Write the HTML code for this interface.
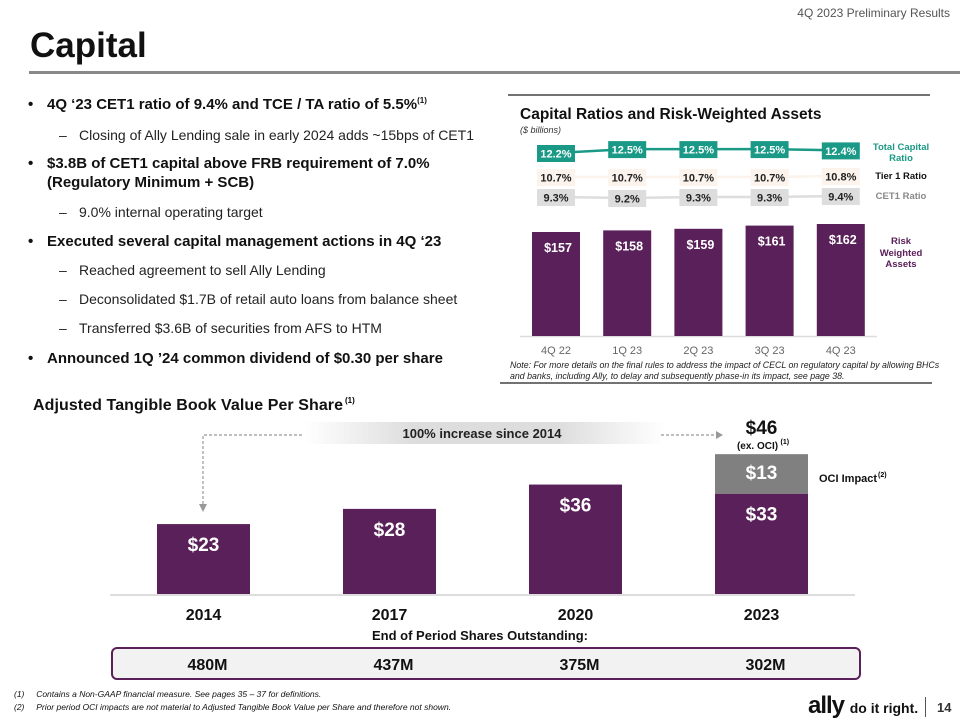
<!DOCTYPE html>
<html><head><meta charset="utf-8"><style>
body{margin:0;width:960px;height:720px;background:#fff;position:relative;overflow:hidden;font-family:"Liberation Sans",sans-serif;color:#111}
.a{position:absolute;white-space:nowrap}
.b{font-weight:bold;font-size:15px}
.s{font-size:14px;color:#222}
</style></head><body>
<div class="a" style="right:10px;top:6px;font-size:12px;color:#555">4Q 2023 Preliminary Results</div>
<div class="a" style="left:30px;top:26px;font-size:35px;font-weight:bold">Capital</div>
<div class="a" style="left:29px;top:71px;width:931px;height:3px;background:#888"></div>

<div>
<div class="a b" style="left:28px;top:96px">•</div><div class="a b" style="left:47px;top:96px">4Q ‘23 CET1 ratio of 9.4% and TCE / TA ratio of 5.5%<sup style="font-size:8px">(1)</sup></div>
<div class="a s" style="left:59px;top:127px">–</div><div class="a s" style="left:79px;top:127px">Closing of Ally Lending sale in early 2024 adds ~15bps of CET1</div>
<div class="a b" style="left:28px;top:155px">•</div><div class="a b" style="left:47px;top:155px">$3.8B of CET1 capital above FRB requirement of 7.0%</div>
<div class="a b" style="left:47px;top:174px">(Regulatory Minimum + SCB)</div>
<div class="a s" style="left:59px;top:204px">–</div><div class="a s" style="left:79px;top:204px">9.0% internal operating target</div>
<div class="a b" style="left:28px;top:233px">•</div><div class="a b" style="left:47px;top:233px">Executed several capital management actions in 4Q ‘23</div>
<div class="a s" style="left:59px;top:262px">–</div><div class="a s" style="left:79px;top:262px">Reached agreement to sell Ally Lending</div>
<div class="a s" style="left:59px;top:291px">–</div><div class="a s" style="left:79px;top:291px">Deconsolidated $1.7B of retail auto loans from balance sheet</div>
<div class="a s" style="left:59px;top:320px">–</div><div class="a s" style="left:79px;top:320px">Transferred $3.6B of securities from AFS to HTM</div>
<div class="a b" style="left:28px;top:350px">•</div><div class="a b" style="left:47px;top:350px">Announced 1Q ’24 common dividend of $0.30 per share</div>
</div>

<svg id="top" class="a" style="left:0;top:0" width="960" height="400"></svg>
<svg id="bot" class="a" style="left:0;top:0" width="960" height="720"></svg>

<div class="a" style="left:14px;top:689px;font-size:8.5px;font-style:italic">(1)&nbsp;&nbsp;&nbsp;&nbsp;&nbsp;Contains a Non-GAAP financial measure. See pages 35 – 37 for definitions.</div>
<div class="a" style="left:14px;top:702px;font-size:8.5px;font-style:italic">(2)&nbsp;&nbsp;&nbsp;&nbsp;&nbsp;Prior period OCI impacts are not material to Adjusted Tangible Book Value per Share and therefore not shown.</div>
<div class="a" style="left:808px;top:692px;font-weight:bold;font-size:24px;letter-spacing:-1px">ally <span style="font-size:14px;letter-spacing:0">do it right.</span></div>
<div class="a" style="left:925px;top:697px;width:1px;height:20px;background:#555"></div>
<div class="a" style="left:937px;top:700px;font-size:13px;font-weight:bold;color:#333">14</div>

<script>
const NS="http://www.w3.org/2000/svg";
function mk(p,t,at,tx){const e=document.createElementNS(NS,t);for(const k in at)e.setAttribute(k,at[k]);if(tx!=null)e.textContent=tx;p.appendChild(e);return e;}

// ---- top chart data
const quarters=["4Q 22","1Q 23","2Q 23","3Q 23","4Q 23"];
const rwa=[157,158,159,161,162];
const totalCap=[12.2,12.5,12.5,12.5,12.4];
const tier1=[10.7,10.7,10.7,10.7,10.8];
const cet1=[9.3,9.2,9.3,9.3,9.4];

// ---- bottom chart data
const years=["2014","2017","2020","2023"];
const tbv=[23,28,36,33];
const oci=[0,0,0,13];
const shares=["480M","437M","375M","302M"];

const T=document.getElementById('top');
let e;
e=mk(T,'line',{x1:508,y1:95,x2:930,y2:95,stroke:'#444','stroke-width':1.5});

e=mk(T,'line',{x1:500,y1:383,x2:932,y2:383,stroke:'#444','stroke-width':1.5});

e=mk(T,'text',{x:520,y:119,'font-size':15.5,'font-weight':'bold',fill:'#111'},'Capital Ratios and Risk-Weighted Assets');

e=mk(T,'text',{x:520,y:133,'font-size':9,'font-style':'italic',fill:'#333'},'($ billions)');


const xq=i=>556+i*71.2;
const base=336, yR=v=>base-(v-92)*1.6;
mk(T,'line',{x1:520,y1:base+0.5,x2:877,y2:base+0.5,stroke:'#ddd','stroke-width':1.5});
rwa.forEach((v,i)=>{
  e=mk(T,'rect',{x:xq(i)-24,y:yR(v),width:48,height:base-yR(v),fill:'#5a2059'});
  
  e=mk(T,'text',{x:xq(i)+2,y:yR(v)+20,'font-size':12.5,'font-weight':'bold',fill:'#fff','text-anchor':'middle'},'$'+v);
  
  e=mk(T,'text',{x:xq(i),y:354,'font-size':11,fill:'#666','text-anchor':'middle'},quarters[i]);
  
});
function ratio(arr,yBase,ref,k,line,bg,fg,name){
  const y=v=>yBase-(v-ref)*k;
  e=mk(T,'polyline',{points:arr.map((v,i)=>xq(i)+','+y(v)).join(' '),fill:'none',stroke:line,'stroke-width':2.5});
  
  arr.forEach((v,i)=>{
    e=mk(T,'rect',{x:xq(i)-19,y:y(v)-8,width:38,height:17,fill:bg});
    
    e=mk(T,'text',{x:xq(i),y:y(v)+4.5,'font-size':11,'font-weight':'bold',fill:fg,'text-anchor':'middle'},v.toFixed(1)+'%');
    
  });
}
ratio(totalCap,153,12.2,13,'#1a9a86','#1a9a86','#fff','total-capital');
ratio(tier1,177,10.7,10,'#fbf3ec','#fbf3ec','#222','tier1');
ratio(cet1,197,9.3,10,'#ddd','#ddd','#222','cet1');
[['Total Capital',150,'#1a9a86'],['Ratio',161,'#1a9a86'],['Tier 1 Ratio',179,'#111'],['CET1 Ratio',199,'#888'],['Risk',244,'#5a2059'],['Weighted',256,'#5a2059'],['Assets',267,'#5a2059']].forEach((l,i)=>{
  e=mk(T,'text',{x:901,y:l[1],'font-size':9.5,'font-weight':'bold',fill:l[2],'text-anchor':'middle'},l[0]);
  
});
e=mk(T,'text',{x:510,y:368,'font-size':8.8,'font-style':'italic',fill:'#222'},'Note: For more details on the final rules to address the impact of CECL on regulatory capital by allowing BHCs');

e=mk(T,'text',{x:510,y:379,'font-size':8.8,'font-style':'italic',fill:'#222'},'and banks, including Ally, to delay and subsequently phase-in its impact, see page 38.');


// ---- bottom chart
const B=document.getElementById('bot');
e=mk(B,'text',{x:33,y:410,'font-size':16,'font-weight':'bold',fill:'#111',textLength:310},'Adjusted Tangible Book Value Per Share');

mk(B,'text',{x:345,y:403,'font-size':8,'font-weight':'bold'},'(1)');
const defs=mk(B,'defs',{});
const g=mk(defs,'linearGradient',{id:'gr',x1:0,x2:1,y1:0,y2:0});
mk(g,'stop',{offset:'0','stop-color':'#fff'});mk(g,'stop',{offset:'0.3','stop-color':'#ddd'});mk(g,'stop',{offset:'0.7','stop-color':'#ddd'});mk(g,'stop',{offset:'1','stop-color':'#fff'});
e=mk(B,'rect',{x:305,y:422,width:360,height:22,fill:'url(#gr)'});

e=mk(B,'text',{x:482,y:438,'font-size':13,'font-weight':'bold',fill:'#222','text-anchor':'middle'},'100% increase since 2014');

e=mk(B,'path',{d:'M302 435 H203 V505',fill:'none',stroke:'#999','stroke-width':1.2,'stroke-dasharray':'3,2'});

mk(B,'path',{d:'M199 504 L207 504 L203 512 Z',fill:'#999'});
e=mk(B,'path',{d:'M661 435 H716',fill:'none',stroke:'#999','stroke-width':1.2,'stroke-dasharray':'3,2'});

mk(B,'path',{d:'M716 431 L723 435 L716 439 Z',fill:'#999'});

const xb=i=>203.5+i*186, bb=594, k=3.04;
mk(B,'line',{x1:110,y1:bb+1,x2:855,y2:bb+1,stroke:'#ddd','stroke-width':2});
tbv.forEach((v,i)=>{
  const yt=bb-v*k;
  e=mk(B,'rect',{x:xb(i)-46.5,y:yt,width:93,height:v*k,fill:'#5a2059'});
  
  e=mk(B,'text',{x:xb(i),y:yt+27,'font-size':19,'font-weight':'bold',fill:'#fff','text-anchor':'middle'},'$'+v);
  
  if(oci[i]>0){
    e=mk(B,'rect',{x:xb(i)-46.5,y:yt-oci[i]*k,width:93,height:oci[i]*k,fill:'#808080'});
    
    e=mk(B,'text',{x:xb(i),y:yt-oci[i]*k+25,'font-size':19,'font-weight':'bold',fill:'#fff','text-anchor':'middle'},'$'+oci[i]);
    
    e=mk(B,'text',{x:xb(i),y:yt-oci[i]*k-20,'font-size':19,'font-weight':'bold',fill:'#111','text-anchor':'middle'},'$'+(v+oci[i]));
    
    e=mk(B,'text',{x:xb(i)-4,y:yt-oci[i]*k-5,'font-size':10,'font-weight':'bold',fill:'#111','text-anchor':'middle'},'(ex. OCI)');
    
    mk(B,'text',{x:xb(i)+19,y:yt-oci[i]*k-10,'font-size':7,'font-weight':'bold'},'(1)');
    e=mk(B,'text',{x:819,y:yt-oci[i]*k+28,'font-size':11,'font-weight':'bold',fill:'#111'},'OCI Impact');
    
    mk(B,'text',{x:878,y:yt-oci[i]*k+23,'font-size':7,'font-weight':'bold'},'(2)');
  }
  e=mk(B,'text',{x:xb(i),y:620,'font-size':16,'font-weight':'bold',fill:'#111','text-anchor':'middle'},years[i]);
  
});
e=mk(B,'text',{x:480,y:640,'font-size':13,'font-weight':'bold',fill:'#111','text-anchor':'middle'},'End of Period Shares Outstanding:');

e=mk(B,'rect',{x:112,y:648,width:748,height:31,rx:5,fill:'#f2f2f2',stroke:'#5a2059','stroke-width':2});

shares.forEach((s,i)=>{
  e=mk(B,'text',{x:xb(i)+4,y:670,'font-size':16,'font-weight':'bold',fill:'#111','text-anchor':'middle'},s);
  
});
</script>
</body></html>
